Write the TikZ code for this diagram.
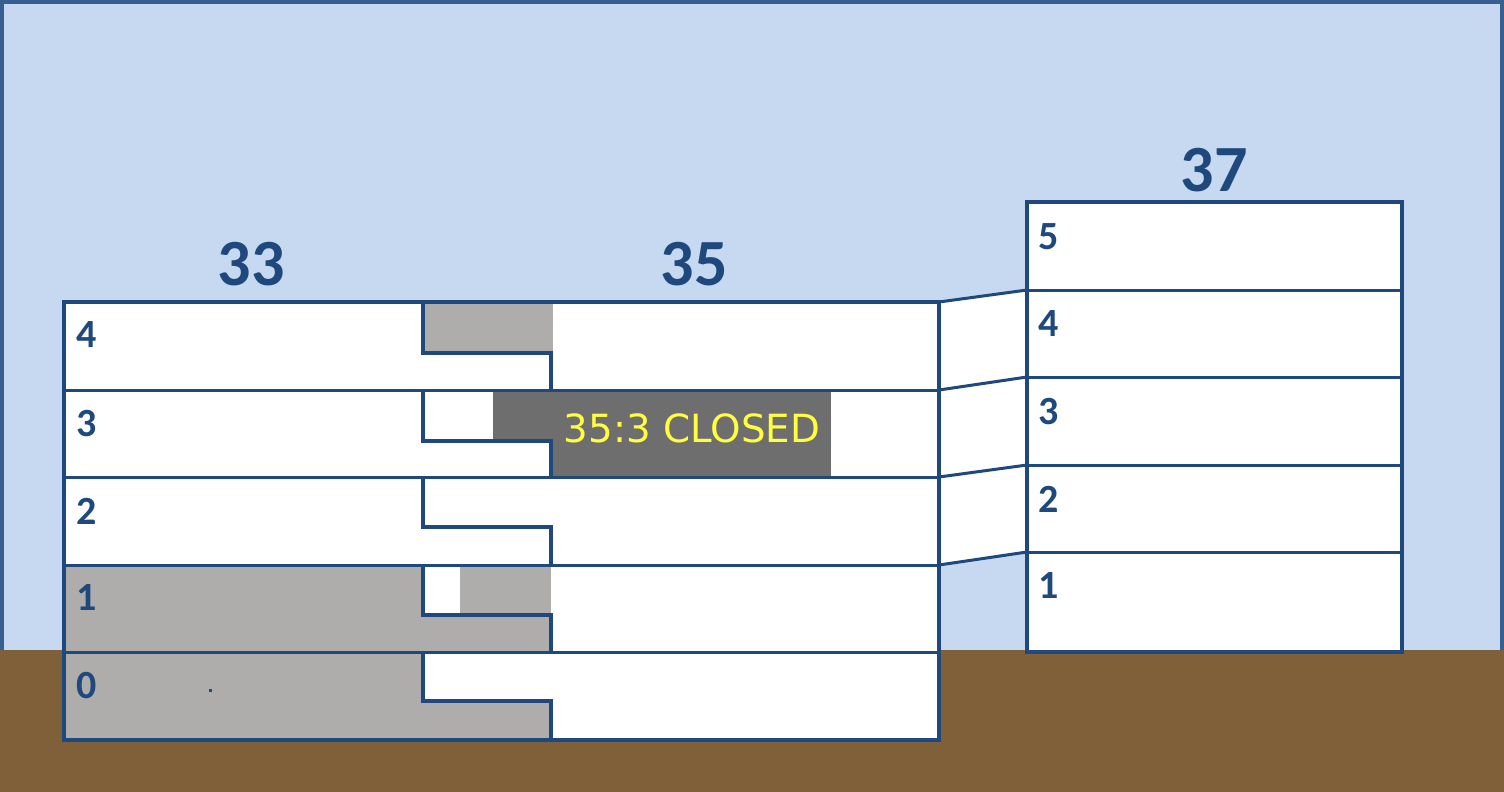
\documentclass[tikz,border=0pt]{standalone}
\usepackage{fontspec}
\setmainfont{Carlito}
\newfontfamily\dvfont{DejaVu Sans}
\definecolor{sky}{RGB}{198,217,240}
\definecolor{frame}{RGB}{55,95,143}
\definecolor{soil}{RGB}{127,96,57}
\definecolor{navy}{RGB}{31,73,125}
\definecolor{lgrey}{RGB}{174,173,171}
\definecolor{dgrey}{RGB}{110,110,110}
\definecolor{warn}{RGB}{255,255,64}
\tikzset{
  wall/.style={draw=navy, line width=3.5pt, line join=miter},
  floorline/.style={draw=navy, line width=3pt},
  title/.style={text=navy, font=\bfseries\fontsize{66}{66}\selectfont, inner sep=0pt},
  lvl/.style={text=navy, font=\bfseries\fontsize{40}{40}\selectfont, inner sep=0pt},
  closed/.style={text=warn, font=\dvfont\fontsize{38.8}{38.8}\selectfont, inner sep=0pt}
}
\begin{document}
\begin{tikzpicture}[x=1pt,y=-1pt]
\useasboundingbox (0,0) rectangle (1504,792);
% sky and frame
\fill[sky] (0,0) rectangle (1504,792);
\draw[frame, line width=4pt] (2,2) rectangle (1502,790);
% ground
\fill[soil] (0,650) rectangle (1504,792);
% white fills
\fill[white] (64,302) rectangle (939,740);
\fill[white] (939,302) -- (1027,290) -- (1027,552) -- (939,565) -- cycle;
\fill[white] (1027,202) rectangle (1402,652);
% grey areas
\fill[lgrey] (423,302) rectangle (553,353);
\fill[lgrey] (64,565) -- (423,565) -- (423,615) -- (551,615) -- (551,652) -- (64,652) -- cycle;
\fill[lgrey] (460,565) rectangle (551,615);
\fill[lgrey] (64,652) -- (423,652) -- (423,701) -- (551,701) -- (551,740) -- (64,740) -- cycle;
\fill[dgrey] (493,390) rectangle (831,439);
\fill[dgrey] (551,439) rectangle (831,477);
\fill[navy] (209,689) rectangle (212,692);
% coordinates
\coordinate (a4) at (939,302); \coordinate (b4) at (1027,290);
\coordinate (a3) at (939,390); \coordinate (b3) at (1027,377);
\coordinate (a2) at (939,477); \coordinate (b2) at (1027,465);
\coordinate (a1) at (939,565); \coordinate (b1) at (1027,552);
% building 33/35 floors
\foreach \t/\m/\b in {302/353/390, 390/441/477, 477/527/565, 565/615/652, 652/701/740}{
  \draw[wall] (423,\t) -- (423,\m) -- (551,\m) -- (551,\b);
}
\foreach \y in {390,477,565,652}{
  \draw[floorline] (64,\y) -- (939,\y);
}
\draw[wall] (64,302) rectangle (939,740);
% building 37
\foreach \y in {290,377,465,552}{
  \draw[floorline] (1027,\y) -- (1402,\y);
}
\draw[wall] (1027,202) rectangle (1402,652);
% links
\draw[floorline] (a4) -- (b4);
\draw[floorline] (a3) -- (b3);
\draw[floorline] (a2) -- (b2);
\draw[floorline] (a1) -- (b1);
% titles
\node[title] (t33) at (251,264) {33};
\node[title] (t35) at (694,264) {35};
\node[title] (t37) at (1214,170) {37};
% level labels
\node[lvl] (l4) at (87,335) {4};
\node[lvl] (l3) at (87,424) {3};
\node[lvl] (l2) at (87,511) {2};
\node[lvl] (l1) at (87,598) {1};
\node[lvl] (l0) at (87,686) {0};
\node[lvl] (r5) at (1049,237) {5};
\node[lvl] (r4) at (1049,324) {4};
\node[lvl] (r3) at (1049,412) {3};
\node[lvl] (r2) at (1049,499) {2};
\node[lvl] (r1) at (1049,586) {1};
\node[closed] (msg) at (692,428) {35:3 CLOSED};
\end{tikzpicture}
\end{document}
